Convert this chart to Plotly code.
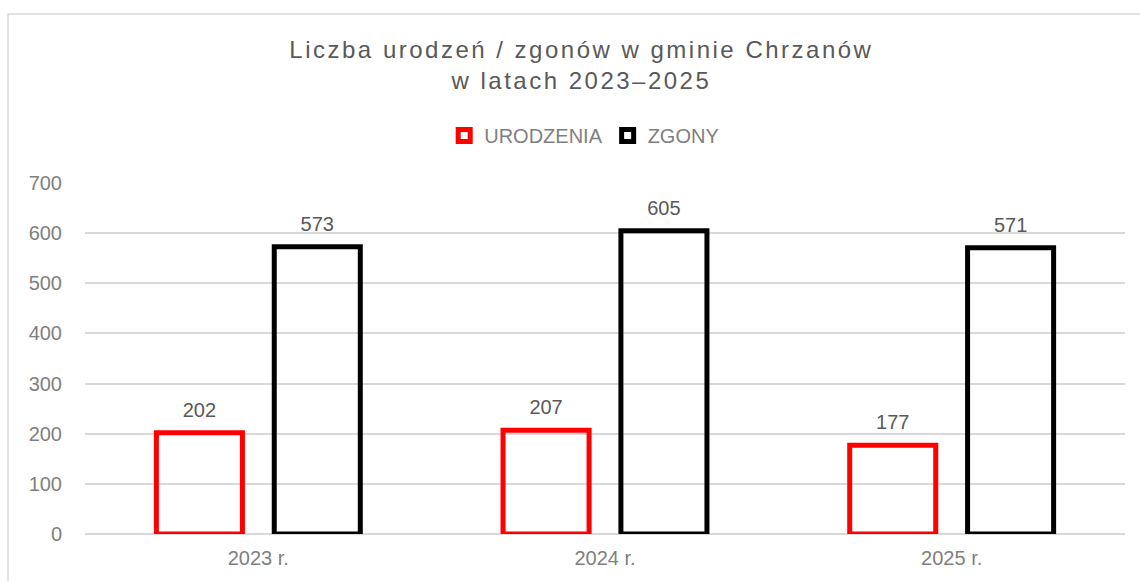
import plotly.graph_objects as go

categories = ["2023 r.", "2024 r.", "2025 r."]
urodzenia = [202, 207, 177]
zgony = [573, 605, 571]
y_ticks = [0, 100, 200, 300, 400, 500, 600, 700]

FONT = "Liberation Sans, Arial, sans-serif"
AXIS_GRAY = "#7F7F7F"
series = [("URODZENIA", urodzenia, "#FF0000", "u"), ("ZGONY", zgony, "#000000", "z")]

fig = go.Figure()
for name, vals, col, grp in series:
    fig.add_trace(go.Bar(
        name=name, x=categories, y=vals, offsetgroup=grp,
        marker=dict(color="rgba(0,0,0,0)", line=dict(color=col, width=5)),
        hoverinfo="x+y",
    ))
for name, vals, col, grp in series:
    fig.add_trace(go.Scatter(
        x=categories, y=vals, offsetgroup=grp, mode="markers+text",
        marker=dict(size=16, opacity=0), text=vals, textposition="top center",
        textfont=dict(family=FONT, size=20, color="#595959"),
        showlegend=False, hoverinfo="skip", cliponaxis=False,
    ))

fig.update_layout(
    width=1140, height=581,
    margin=dict(l=85, r=15, t=183, b=45),
    paper_bgcolor="white", plot_bgcolor="white",
    font=dict(family=FONT, color=AXIS_GRAY, size=20),
    title=dict(
        text="Liczba urodzeń / zgonów w gminie Chrzanów<br>w latach 2023–2025",
        x=0.51, xanchor="center", y=0.90, yanchor="top",
        font=dict(family=FONT, size=24, color="#595959"),
    ),
    legend=dict(
        orientation="h", x=0.48, xanchor="center", y=1.135, yanchor="middle",
        font=dict(family=FONT, size=20, color=AXIS_GRAY),
        itemwidth=30, traceorder="normal",
    ),
    barmode="group", bargap=0.32, bargroupgap=0.27,
    scattermode="group", scattergap=0.32,
    xaxis=dict(showgrid=False, showline=False, ticks="", ticklabelstandoff=10,
               tickfont=dict(family=FONT, size=20, color=AXIS_GRAY)),
    yaxis=dict(range=[0, 700], tickvals=y_ticks, showgrid=True,
               gridcolor="#D9D9D9", gridwidth=1.5, zeroline=True,
               zerolinecolor="#D9D9D9", zerolinewidth=1.5, showline=False,
               ticks="", ticklabelstandoff=22,
               tickfont=dict(family=FONT, size=20, color=AXIS_GRAY)),
    shapes=[dict(type="rect", xref="paper", yref="paper",
                 x0=-0.074, x1=1.03, y0=-0.3, y1=1.4816,
                 line=dict(color="#D9D9D9", width=1.5), layer="below")],
)

post = """
document.body.style.margin='0';
document.querySelectorAll('.gtitle').forEach(function(e){e.style.letterSpacing='2.5px';});
"""
fig.write_html("out.html", post_script=post, config={"displayModeBar": False})
